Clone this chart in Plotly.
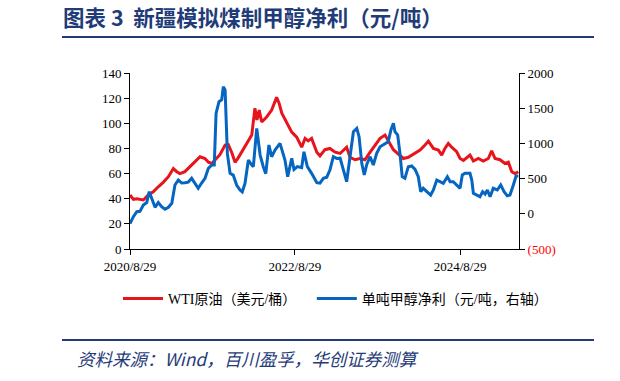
import plotly.graph_objects as go

# ---- data ----
wti_dates = ["2020-08-29","2020-09-13","2020-09-28","2020-10-27","2020-11-18","2020-12-10",
    "2021-01-01","2021-01-23","2021-02-15","2021-03-09","2021-03-24","2021-04-07","2021-04-29",
    "2021-05-22","2021-06-13","2021-07-05","2021-07-27","2021-08-11","2021-08-26","2021-09-09",
    "2021-10-01","2021-10-24","2021-11-07","2021-11-22","2021-12-07","2021-12-21",
    "2022-01-05","2022-01-28","2022-02-19","2022-03-05","2022-03-14","2022-03-24","2022-04-04",
    "2022-04-26","2022-05-18","2022-06-09","2022-06-20","2022-07-02","2022-07-24","2022-08-15",
    "2022-09-06","2022-09-28","2022-10-13","2022-10-27","2022-11-11","2022-12-04","2022-12-18",
    "2023-01-09","2023-01-31","2023-02-23","2023-03-17","2023-04-15","2023-04-30","2023-05-22",
    "2023-06-13","2023-07-05","2023-07-28","2023-08-19","2023-09-10","2023-10-02","2023-10-16",
    "2023-11-08","2023-11-30","2023-12-22","2024-01-13","2024-02-12","2024-03-05","2024-03-27",
    "2024-04-11","2024-05-03","2024-05-25","2024-06-09","2024-06-23","2024-07-08","2024-07-23",
    "2024-08-14","2024-08-29","2024-09-13","2024-09-28","2024-10-12","2024-10-27","2024-11-18",
    "2024-12-10","2025-01-01","2025-01-16","2025-01-31","2025-02-22","2025-03-16","2025-03-31",
    "2025-04-15","2025-04-29","2025-05-14"]
wti_values = [43,39.5,40,39,43,45.5,
    49.5,53,57.5,64,61.5,60,61.5,
    65.5,70,73.4,72,69,68,71,
    75,82.7,83,77,69,72.5,
    77,85,90.6,112,102.6,110.5,101,
    105,110.5,120.6,116,108,100,93,
    89,81,88,86,88,77,74,
    79,80,77,76,81,73,71,
    72,71,77,82.7,88,90.6,86,
    79,75.5,72,73,76,78.7,82.7,
    85.8,80,78.7,74.7,80,84,81,
    77.5,72,70.5,73,74.7,70,72,
    70,72,78,72,71,68,69,
    61.5,60,61.5]

profit_dates = ["2020-08-29","2020-09-13","2020-09-28","2020-10-12","2020-10-27","2020-11-11",
    "2020-11-22","2020-12-03","2020-12-18","2021-01-01","2021-01-16","2021-01-31","2021-02-15",
    "2021-03-02","2021-03-16","2021-03-31","2021-04-15","2021-04-29","2021-05-14","2021-05-29",
    "2021-06-13","2021-06-27","2021-07-12","2021-07-27","2021-08-11","2021-08-26","2021-09-06",
    "2021-09-14","2021-09-27","2021-10-09","2021-10-16","2021-10-24","2021-11-03","2021-11-15",
    "2021-11-29","2021-12-14","2021-12-29","2022-01-08","2022-01-20","2022-02-04","2022-02-19",
    "2022-02-26","2022-03-13","2022-03-28","2022-04-11","2022-04-22","2022-05-06","2022-05-18",
    "2022-06-02","2022-06-24","2022-07-16","2022-07-28","2022-08-15","2022-08-25","2022-09-09",
    "2022-09-28","2022-10-08","2022-10-23","2022-11-11","2022-12-04","2022-12-18","2023-01-02",
    "2023-01-17","2023-01-31","2023-02-15","2023-03-02","2023-03-17","2023-03-31","2023-04-15",
    "2023-04-30","2023-05-15","2023-05-30","2023-06-09","2023-06-21","2023-07-02","2023-07-13",
    "2023-07-28","2023-08-11","2023-08-26","2023-09-10","2023-10-02","2023-10-16","2023-10-28",
    "2023-11-08","2023-11-15","2023-11-27","2023-12-07","2023-12-17","2023-12-29","2024-01-13",
    "2024-01-28","2024-02-12","2024-02-26","2024-03-08","2024-03-19","2024-04-03","2024-04-21",
    "2024-05-03","2024-05-18","2024-06-01","2024-06-16","2024-07-04","2024-07-16","2024-07-30",
    "2024-08-14","2024-08-29","2024-09-08","2024-09-20","2024-10-12","2024-10-20","2024-10-27",
    "2024-11-11","2024-11-25","2024-12-07","2024-12-18","2024-12-28","2025-01-09","2025-01-23",
    "2025-02-10","2025-02-25","2025-03-12","2025-03-26","2025-04-07","2025-04-22","2025-05-04",
    "2025-05-14"]
profit_values = [-140,-41,30,35,125,160,
    314,220,92,160,100,64,92,
    149,409,480,437,440,450,504,
    437,362,437,504,646,693,693,
    1427,1592,1620,1805,1760,858,575,
    550,409,338,310,430,764,693,
    670,1214,835,669,570,977,811,
    905,1000,764,527,788,630,670,
    655,882,670,575,442,435,504,
    520,622,811,787,790,622,456,
    811,1166,1214,1095,716,551,700,
    811,693,858,953,1000,1024,1190,
    1285,1166,1119,858,527,504,669,
    680,630,527,314,362,314,267,
    338,480,457,433,527,457,457,
    409,362,551,575,575,480,291,
    267,243,314,280,338,243,362,
    338,409,314,255,267,409,537,
    537]

x_tick_vals = ["2020-08-29", "2022-08-29", "2024-08-29"]
x_tick_text = ["2020/8/29", "2022/8/29", "2024/8/29"]
left_ticks = [0, 20, 40, 60, 80, 100, 120, 140]
right_ticks = [-500, 0, 500, 1000, 1500, 2000]
right_tick_text = ['<span style="color:#FF0000">(500)</span>', "0", "500", "1000", "1500", "2000"]

RED = "#E8141C"
BLUE = "#0565C0"
NAVY = "#1F3C78"
SERIF = "Liberation Serif, Times New Roman, Noto Sans CJK SC, serif"

fig = go.Figure()
fig.add_trace(go.Scatter(x=wti_dates, y=wti_values, mode="lines",
                         name="WTI原油（美元/桶）\u00a0\u00a0\u00a0", line=dict(color=RED, width=3)))
fig.add_trace(go.Scatter(x=profit_dates, y=profit_values, mode="lines", yaxis="y2",
                         name="单吨甲醇净利（元/吨，右轴）", line=dict(color=BLUE, width=3)))

axis_common = dict(showgrid=False, zeroline=False, showline=True, linecolor="#000000",
                   linewidth=1, ticks="outside", ticklen=5, tickcolor="#000000",
                   tickfont=dict(family=SERIF, size=13, color="#000000"))

fig.update_layout(
    width=620, height=381,
    margin=dict(l=130, r=101, t=73, b=132, autoexpand=False),
    paper_bgcolor="white", plot_bgcolor="white",
    title=dict(text="<b>图表 3  新疆模拟煤制甲醇净利（元/吨）</b>", x=63/620, xanchor="left",
               y=1-18/381, yanchor="middle",
               font=dict(family="Noto Sans CJK SC", size=21.5, color=NAVY)),
    xaxis=dict(type="date", range=["2020-08-29", "2025-05-17"], tickvals=x_tick_vals,
               ticktext=x_tick_text, **axis_common),
    yaxis=dict(range=[0, 140], tickvals=left_ticks, **axis_common),
    yaxis2=dict(range=[-500, 2000], tickvals=right_ticks, ticktext=right_tick_text,
                overlaying="y", side="right", **axis_common),
    legend=dict(orientation="h", x=(118-130)/389, xanchor="left", y=-50/176, yanchor="middle",
                font=dict(family=SERIF, size=14, color="#000000"), itemwidth=40,
                bgcolor="rgba(0,0,0,0)"),
    showlegend=True,
)

# header / footer rules
fig.add_shape(type="line", xref="paper", yref="paper", x0=(62-130)/389, x1=(594-130)/389,
              y0=(249-37)/176, y1=(249-37)/176, line=dict(color=NAVY, width=2))
fig.add_shape(type="line", xref="paper", yref="paper", x0=(62-130)/389, x1=(594-130)/389,
              y0=(249-340)/176, y1=(249-340)/176, line=dict(color=NAVY, width=2))
fig.add_annotation(text="<i>资料来源：Wind，百川盈孚，华创证券测算</i>", xref="paper", yref="paper",
                   x=(75-130)/389, y=(249-358)/176, xanchor="left", yanchor="middle",
                   showarrow=False, font=dict(family="Noto Sans CJK SC", size=17.5, color=NAVY))

fig.write_html("out.html", post_script="document.body.style.margin='0';",
               config={"displayModeBar": False})
